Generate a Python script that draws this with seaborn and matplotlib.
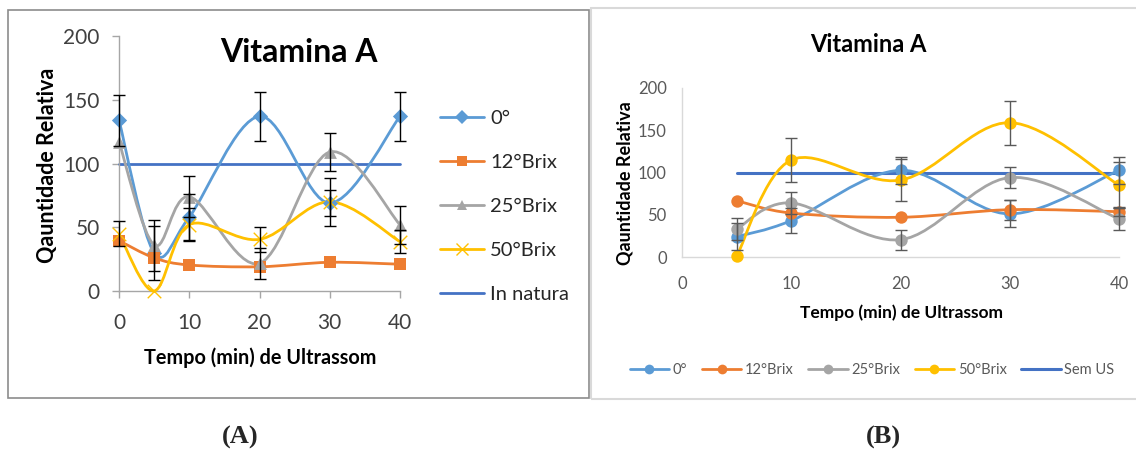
import numpy as np
import pandas as pd
import matplotlib
matplotlib.use("Agg")
import matplotlib.pyplot as plt
import seaborn as sns
from matplotlib.path import Path
from matplotlib.patches import PathPatch, Rectangle
from matplotlib.lines import Line2D

# ---------------- data ----------------
series_names_A = ["0°", "12°Brix", "25°Brix", "50°Brix"]
ref_label_A = "In natura"
time_A = [0, 5, 10, 20, 30, 40]
vals_A_0 = [134, 30, 58, 137, 69, 137]
vals_A_12 = [39.5, 26, 20.4, 19, 22.5, 21]
vals_A_25 = [117, 36, 74, 21.7, 109, 52]
vals_A_50 = [45, 0, 52, 40.5, 70, 38.7]
err_A_0 = [20, 21, 18, 19, 10, 19]
err_A_12 = [0, 0, 0, 0, 0, 0]
err_A_25 = [0, 20, 16, 12, 15, 15]
err_A_50 = [10, 0, 13, 10, 19, 9]
ref_value = 100

series_names_B = ["0°", "12°Brix", "25°Brix", "50°Brix"]
ref_label_B = "Sem US"
time_B = [5, 10, 20, 30, 40]
vals_B_0 = [24, 43, 102.6, 51, 102.6]
vals_B_12 = [66.7, 52, 47, 56, 53.6]
vals_B_25 = [33, 64, 20.5, 94, 45]
vals_B_50 = [0.8, 114.8, 91, 159, 85]
err_B_0 = [16, 15, 16, 16, 16]
err_B_12 = [0, 0, 0, 12, 5]
err_B_25 = [13, 13, 12, 12, 13]
err_B_50 = [0, 26, 25, 26, 27]

x_ticks = [0, 10, 20, 30, 40]
y_ticks = [0, 50, 100, 150, 200]

colors = ["#5B9BD5", "#ED7D31", "#A5A5A5", "#FFC000"]
ref_color = "#4472C4"

sns.set_theme(style="white")
plt.rcParams["font.family"] = ["Lato", "DejaVu Sans"]

W, H = 1136, 450
fig = plt.figure(figsize=(W / 100, H / 100), dpi=100)


def fx(px):
    return px / W


def fy(py):
    return 1 - py / H


def smooth_path(xs, ys):
    pts = np.column_stack([xs, ys]).astype(float)
    n = len(pts)
    verts = [pts[0]]
    codes = [Path.MOVETO]
    for i in range(n - 1):
        p0 = pts[i - 1] if i > 0 else pts[i]
        p1 = pts[i]
        p2 = pts[i + 1]
        p3 = pts[i + 2] if i + 2 < n else pts[i + 1]
        c1 = p1 + (p2 - p0) / 6.0
        c2 = p2 - (p3 - p1) / 6.0
        verts += [c1, c2, p2]
        codes += [Path.CURVE4] * 3
    return Path(verts, codes)


# frames
fig.patches.append(Rectangle((fx(8), fy(398)), fx(589 - 8), fy(10) - fy(398),
                             transform=fig.transFigure, fill=False,
                             edgecolor="#8c8c8c", linewidth=1.2))
fig.patches.append(Rectangle((fx(591), fy(399)), fx(1140 - 591), fy(8) - fy(399),
                             transform=fig.transFigure, fill=False,
                             edgecolor="#d9d9d9", linewidth=1.5))

# ---------------- Panel A ----------------
axA = fig.add_axes([fx(119), fy(291), fx(400 - 119), fy(36) - fy(291)])
valsA = [vals_A_0, vals_A_12, vals_A_25, vals_A_50]
errsA = [err_A_0, err_A_12, err_A_25, err_A_50]
markersA = ["D", "s", "^", "x"]
msizesA = [60, 80, 85, 95]

axA.plot([time_A[0], time_A[-1]], [ref_value, ref_value], color=ref_color,
         lw=2.0, zorder=2, clip_on=False)
for name, v, e, c, m, ms in zip(series_names_A, valsA, errsA, colors, markersA, msizesA):
    axA.add_patch(PathPatch(smooth_path(time_A, v), fill=False, edgecolor=c,
                            lw=2.0, zorder=3, clip_on=False))
    df = pd.DataFrame({"t": time_A, "v": v})
    if m == "x":
        sns.scatterplot(data=df, x="t", y="v", ax=axA, marker="x", color=c,
                        s=ms, linewidth=1.0, zorder=4, clip_on=False, legend=False)
    else:
        sns.scatterplot(data=df, x="t", y="v", ax=axA, marker=m, color=c,
                        s=ms, linewidth=0, zorder=4, clip_on=False, legend=False)
    ee = np.array(e, dtype=float)
    mask = ee > 0
    axA.errorbar(np.array(time_A)[mask], np.array(v)[mask], yerr=ee[mask], fmt="none",
                 ecolor="black", elinewidth=1.0, capsize=4, capthick=1.0,
                 zorder=5, clip_on=False)

axA.set_xlim(0, 40)
axA.set_ylim(0, 200)
axA.set_xticks(x_ticks)
axA.set_yticks(y_ticks)
for s in ["top", "right"]:
    axA.spines[s].set_visible(False)
for s in ["left", "bottom"]:
    axA.spines[s].set_color("#a6a6a6")
    axA.spines[s].set_linewidth(1.0)
axA.tick_params(axis="both", which="both", direction="out", length=5, width=1.0,
                color="#a6a6a6", labelsize=15, labelcolor="#404040",
                bottom=True, left=True)
axA.tick_params(axis="x", pad=11)
axA.tick_params(axis="y", pad=9)
axA.set_xlabel("")
axA.set_ylabel("")
axA.set_facecolor("none")

fig.text(fx(299), fy(53), "Vitamina A", ha="center", va="center",
         fontsize=23, fontweight="bold", color="black")
fig.text(fx(48), fy(165), "Qauntidade Relativa", ha="center", va="center",
         rotation=90, fontsize=15.5, fontweight="bold", color="black")
fig.text(fx(260), fy(358), "Tempo (min) de Ultrassom", ha="center", va="center",
         fontsize=14.3, fontweight="bold", color="black")

handlesA = [Line2D([], [], color=c, lw=2.0, marker=m,
                   markersize=(7.5 if m != "x" else 9), markeredgewidth=(1.0 if m == "x" else 0))
            for c, m in zip(colors, markersA)]
handlesA.append(Line2D([], [], color=ref_color, lw=2.0))
legA = fig.legend(handlesA, series_names_A + [ref_label_A], loc="upper left",
                  bbox_to_anchor=(fx(440), fy(110)), frameon=False, fontsize=14.5,
                  handlelength=2.2, handletextpad=0.3, labelspacing=1.33,
                  borderaxespad=0, borderpad=0)
for t in legA.get_texts():
    t.set_color("#262626")

# ---------------- Panel B ----------------
axB = fig.add_axes([fx(682), fy(257), fx(1119 - 682), fy(88) - fy(257)])
valsB = [vals_B_0, vals_B_12, vals_B_25, vals_B_50]
errsB = [err_B_0, err_B_12, err_B_25, err_B_50]

axB.plot([time_B[0], time_B[-1]], [ref_value, ref_value], color=ref_color,
         lw=2.2, zorder=2, clip_on=False)
for name, v, e, c in zip(series_names_B, valsB, errsB, colors):
    axB.add_patch(PathPatch(smooth_path(time_B, v), fill=False, edgecolor=c,
                            lw=2.0, zorder=3, clip_on=False))
    df = pd.DataFrame({"t": time_B, "v": v})
    sns.scatterplot(data=df, x="t", y="v", ax=axB, marker="o", color=c,
                    s=80, linewidth=0, zorder=4, clip_on=False, legend=False)
    ee = np.array(e, dtype=float)
    mask = ee > 0
    axB.errorbar(np.array(time_B)[mask], np.array(v)[mask], yerr=ee[mask], fmt="none",
                 ecolor="#595959", elinewidth=1.0, capsize=4, capthick=1.0,
                 zorder=5, clip_on=False)

axB.set_xlim(0, 40)
axB.set_ylim(0, 200)
axB.set_xticks(x_ticks)
axB.set_yticks(y_ticks)
for s in ["top", "right"]:
    axB.spines[s].set_visible(False)
for s in ["left", "bottom"]:
    axB.spines[s].set_color("#d9d9d9")
    axB.spines[s].set_linewidth(1.0)
axB.tick_params(axis="both", which="both", length=0, labelsize=12,
                labelcolor="#595959")
axB.tick_params(axis="x", pad=14)
axB.tick_params(axis="y", pad=11)
axB.set_xlabel("")
axB.set_ylabel("")
axB.set_facecolor("none")

fig.text(fx(868), fy(45), "Vitamina A", ha="center", va="center",
         fontsize=17, fontweight="bold", color="black")
fig.text(fx(625), fy(183), "Qauntidade Relativa", ha="center", va="center",
         rotation=90, fontsize=13, fontweight="bold", color="black")
fig.text(fx(901), fy(313), "Tempo (min) de Ultrassom", ha="center", va="center",
         fontsize=12.5, fontweight="bold", color="black")

handlesB = [Line2D([], [], color=c, lw=2.0, marker="o", markersize=7, markeredgewidth=0)
            for c in colors]
handlesB.append(Line2D([], [], color=ref_color, lw=2.2))
legB = fig.legend(handlesB, series_names_B + [ref_label_B], loc="center",
                  bbox_to_anchor=(fx(872), fy(370)), ncol=5, frameon=False,
                  fontsize=10.5, handlelength=2.7, handletextpad=0.25,
                  columnspacing=1.0, borderaxespad=0, borderpad=0)
for t in legB.get_texts():
    t.set_color("#595959")

# captions
fig.text(fx(240), fy(437), "(A)", ha="center", va="center", fontsize=19,
         fontweight="bold", family=["Liberation Serif", "DejaVu Serif"])
fig.text(fx(883), fy(437), "(B)", ha="center", va="center", fontsize=19,
         fontweight="bold", family=["Liberation Serif", "DejaVu Serif"])

fig.savefig("out.png", dpi=100)
